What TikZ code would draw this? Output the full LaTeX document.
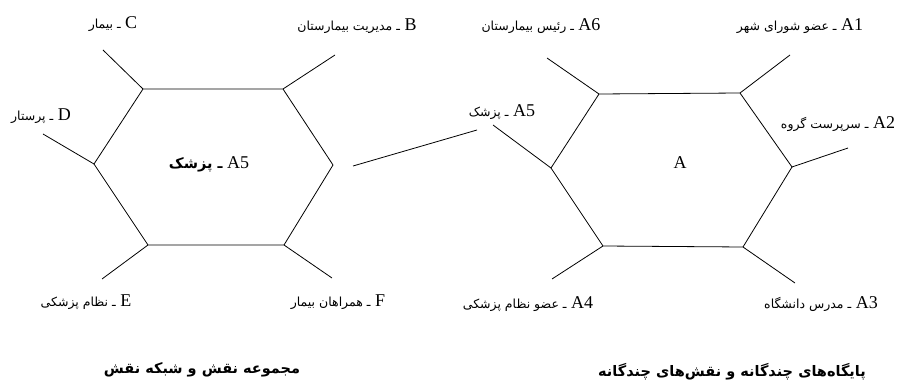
\documentclass[tikz,border=0pt]{standalone}
\usepackage{fontspec}
\setmainfont{Liberation Serif}
\newfontfamily\fa[Script=Arabic]{DejaVu Sans}
\TeXXeTstate=1
\newcommand{\fatext}[1]{{\fa\fontsize{12.5}{14}\selectfont\beginR #1\endR}}
\newcommand{\fabold}[1]{{\fa\bfseries\fontsize{14.5}{16}\selectfont\beginR #1\endR}}

\begin{document}
\begin{tikzpicture}[x=1pt,y=-1pt,line width=0.8pt,
    lbl/.style={font=\fontsize{18}{20}\selectfont, inner sep=0pt}]
    \useasboundingbox (0,0) rectangle (898,382);
    % first hexagon: role set and role network
    \coordinate (l1) at (143,89);
    \coordinate (l2) at (283,89);
    \coordinate (l3) at (333,165);
    \coordinate (l4) at (284,245);
    \coordinate (l5) at (148,245);
    \coordinate (l6) at (94,164);
    \draw (l1)--(l2)--(l3)--(l4)--(l5)--(l6)--cycle;
    \node[lbl] (c) at (113,24) {\fatext{ـ بیمار} C};
    \node[lbl] (b) at (357,26) {\fatext{ـ مدیریت بیمارستان} B};
    \node[lbl] (d) at (41,116) {\fatext{ـ پرستار} D};
    \node[lbl] (e) at (86,302) {\fatext{ـ نظام پزشکی} E};
    \node[lbl] (f) at (338,302) {\fatext{ـ همراهان بیمار} F};
    \node[lbl] (mid) at (209,164) {\fabold{ـ پزشک} A5};
    \coordinate (sc) at (103,50);
    \coordinate (sb) at (335,55);
    \coordinate (sd) at (43,134);
    \coordinate (se) at (102,279);
    \coordinate (sf) at (332,278);
    \draw (l1)--(sc) (l2)--(sb) (l6)--(sd) (l5)--(se) (l4)--(sf);
    \node[lbl] (cap1) at (202,370) {\fabold{مجموعه نقش و شبکه نقش}};

    % second hexagon: multiple statuses and roles
    \coordinate (r1) at (599,94);
    \coordinate (r2) at (740,93);
    \coordinate (r3) at (792,167);
    \coordinate (r4) at (743,247);
    \coordinate (r5) at (603,246);
    \coordinate (r6) at (551,168);
    \draw (r1)--(r2)--(r3)--(r4)--(r5)--(r6)--cycle;
    \node[lbl] (a) at (680,163) {A};
    \node[lbl] (a6) at (541,26) {\fatext{ـ رئیس بیمارستان} A6};
    \node[lbl] (a1) at (800,26) {\fatext{ـ عضو شورای شهر} A1};
    \node[lbl] (a5) at (502,112) {\fatext{ـ پزشک} A5};
    \node[lbl] (a2) at (838,124) {\fatext{ـ سرپرست گروه} A2};
    \node[lbl] (a4) at (528,304) {\fatext{ـ عضو نظام پزشکی} A4};
    \node[lbl] (a3) at (821,304) {\fatext{ـ مدرس دانشگاه} A3};
    \coordinate (s6) at (547,58);
    \coordinate (s1) at (790,55);
    \coordinate (s5) at (493,125);
    \coordinate (s2) at (848,148);
    \coordinate (s4) at (552,279);
    \coordinate (s3) at (795,283);
    \draw (r1)--(s6) (r2)--(s1) (r6)--(s5) (r3)--(s2) (r5)--(s4) (r4)--(s3);
    \node[lbl] (cap2) at (732,372) {\fabold{پایگاه‌های چندگانه و نقش‌های چندگانه}};

    % link between the two
    \coordinate (k1) at (353,166);
    \coordinate (k2) at (477,130);
    \draw (k1)--(k2);
\end{tikzpicture}
\end{document}
